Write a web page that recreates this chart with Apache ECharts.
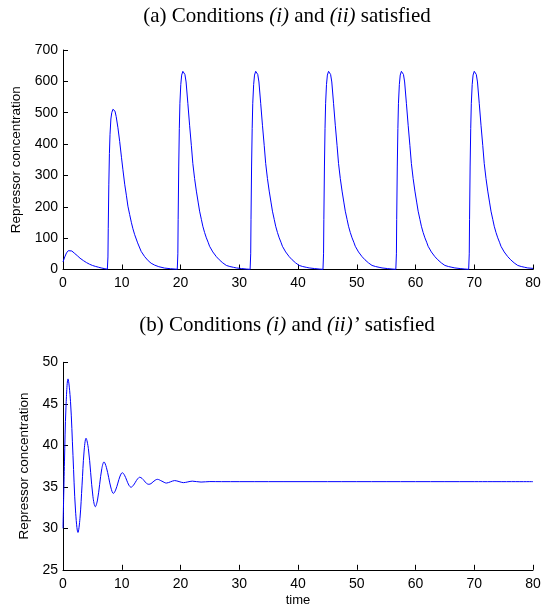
<!DOCTYPE html>
<html>
<head>
<meta charset="utf-8">
<script src="https://cdn.jsdelivr.net/npm/echarts@6/dist/echarts.min.js"></script>
<style>
html,body{margin:0;padding:0;background:#fff;}
#chart{width:557px;height:610px;}
</style>
</head>
<body>
<div id="chart"></div>
<script>
// ---- Data ----
var titleA = '(a) Conditions {it|(i)} and {it|(ii)} satisfied';
var titleB = '(b) Conditions {it|(i)} and {it|(ii)’} satisfied';
var yName = 'Repressor concentration';
var xName = 'time';
var xTicks = [0, 10, 20, 30, 40, 50, 60, 70, 80];
var yTicksA = [0, 100, 200, 300, 400, 500, 600, 700];
var yTicksB = [25, 30, 35, 40, 45, 50];

// (a) time and repressor concentration
var timeA = [
  0, 0.3, 0.6, 0.9, 1.15, 1.5, 2.0, 2.5, 2.9, 3.5, 4.0, 4.5, 5.0, 5.5, 6.0, 6.5, 7.0, 7.55,
  7.65, 7.7, 7.8, 7.9, 8.0, 8.15, 8.3, 8.5, 8.65, 8.85, 9.05, 9.35, 9.65, 9.95, 10.2, 10.5, 10.8, 11.05, 11.35, 11.65, 11.9, 12.2, 12.7, 13.3, 13.9, 14.5, 15.0, 15.6, 16.3, 17.3, 18.3, 19.45,
  19.55, 19.6, 19.7, 19.8, 19.9, 20.05, 20.2, 20.4, 20.55, 20.75, 20.95, 21.25, 21.55, 21.85, 22.1, 22.4, 22.7, 23.0, 23.25, 23.55, 23.8, 24.1, 24.4, 24.7, 24.95, 25.5, 26.1, 26.6, 27.2, 27.8, 28.4, 29.0, 29.5, 30.4, 31.2, 31.85,
  31.95, 32.0, 32.1, 32.2, 32.3, 32.45, 32.6, 32.8, 32.95, 33.15, 33.35, 33.65, 33.95, 34.25, 34.5, 34.8, 35.1, 35.4, 35.65, 35.95, 36.2, 36.5, 36.8, 37.1, 37.35, 37.9, 38.5, 39.0, 39.6, 40.2, 40.8, 41.4, 41.9, 42.8, 43.6, 44.25,
  44.35, 44.4, 44.5, 44.6, 44.7, 44.85, 45.0, 45.2, 45.35, 45.55, 45.75, 46.05, 46.35, 46.65, 46.9, 47.2, 47.5, 47.8, 48.05, 48.35, 48.6, 48.9, 49.2, 49.5, 49.75, 50.3, 50.9, 51.4, 52.0, 52.6, 53.2, 53.8, 54.3, 55.2, 56.0, 56.65,
  56.75, 56.8, 56.9, 57.0, 57.1, 57.25, 57.4, 57.6, 57.75, 57.95, 58.15, 58.45, 58.75, 59.05, 59.3, 59.6, 59.9, 60.2, 60.45, 60.75, 61.0, 61.3, 61.6, 61.9, 62.15, 62.7, 63.3, 63.8, 64.4, 65.0, 65.6, 66.2, 66.7, 67.6, 68.4, 69.05,
  69.15, 69.2, 69.3, 69.4, 69.5, 69.65, 69.8, 70.0, 70.15, 70.35, 70.55, 70.85, 71.15, 71.45, 71.7, 72.0, 72.3, 72.6, 72.85, 73.15, 73.4, 73.7, 74.0, 74.3, 74.55, 75.1, 75.7, 76.2, 76.8, 77.4, 78.0, 78.6, 79.1, 80.0
];
var repressorA = [
  24, 40, 53, 60, 62, 59, 51, 43, 36, 28, 22, 17, 13, 10, 7.5, 5, 3, 1,
  40, 130, 270, 370, 430, 480, 500, 511, 512, 505, 488, 452, 408, 358, 318, 272, 235, 202, 175, 149, 130, 111, 85, 58, 41, 28, 20, 14, 9, 4.5, 2.5, 0.8,
  50, 160, 330, 450, 530, 590, 620, 632, 633, 622, 598, 530, 460, 395, 338, 290, 250, 215, 186, 160, 138, 118, 101, 87, 74, 56, 41, 31, 21, 13, 9.5, 7, 5, 3, 1.5, 0.5,
  50, 160, 330, 450, 530, 590, 620, 632, 633, 622, 598, 530, 460, 395, 338, 290, 250, 215, 186, 160, 138, 118, 101, 87, 74, 56, 41, 31, 21, 13, 9.5, 7, 5, 3, 1.5, 0.5,
  50, 160, 330, 450, 530, 590, 620, 632, 633, 622, 598, 530, 460, 395, 338, 290, 250, 215, 186, 160, 138, 118, 101, 87, 74, 56, 41, 31, 21, 13, 9.5, 7, 5, 3, 1.5, 0.5,
  50, 160, 330, 450, 530, 590, 620, 632, 633, 622, 598, 530, 460, 395, 338, 290, 250, 215, 186, 160, 138, 118, 101, 87, 74, 56, 41, 31, 21, 13, 9.5, 7, 5, 3, 1.5, 0.5,
  50, 160, 330, 450, 530, 590, 620, 632, 633, 622, 598, 530, 460, 395, 338, 290, 250, 215, 186, 160, 138, 118, 101, 87, 74, 56, 41, 31, 21, 13, 9.5, 7, 5, 3.5
];

// (b) time and repressor concentration
var timeB = [
  0, 0.25, 0.5, 0.85, 1.275, 1.7, 2.125, 2.55, 2.89, 3.24, 3.58, 3.92, 4.32, 4.71, 5.1, 5.5,
  5.87, 6.24, 6.61, 6.98, 7.38, 7.78, 8.17, 8.57, 8.95, 9.34, 9.72, 10.1, 10.47, 10.84, 11.21, 11.58,
  11.95, 12.32, 12.69, 13.06, 13.44, 13.83, 14.21, 14.6, 14.97, 15.33, 15.7, 16.06, 16.83, 17.6, 18.3, 19.0,
  19.75, 20.5, 21.25, 22.0, 23.5, 25, 27, 30, 40, 50, 60, 70, 80
];
var repressorB = [
  30, 38, 44.5, 48, 45.3, 38.75, 32.2, 29.5, 31.2, 35.2, 39.2, 40.85, 39.6, 36.7, 33.8, 32.6,
  33.4, 35.3, 37.2, 38.0, 37.35, 36.1, 34.85, 34.2, 34.6, 35.45, 36.3, 36.7, 36.4, 35.8, 35.2, 34.95,
  35.15, 35.55, 35.95, 36.15, 36.02, 35.72, 35.42, 35.3, 35.38, 35.6, 35.8, 35.9, 35.68, 35.45, 35.6, 35.75,
  35.63, 35.5, 35.59, 35.68, 35.57, 35.63, 35.62, 35.62, 35.62, 35.62, 35.62, 35.62, 35.62
];

// ---- Build series data ----
function zip(xs, ys) { var out = []; for (var i = 0; i < xs.length; i++) out.push([xs[i], ys[i]]); return out; }
var dataA = zip(timeA, repressorA);
var dataB = zip(timeB, repressorB);

var FONT_SANS = '"Liberation Sans", Arial, Helvetica, sans-serif';
var FONT_SERIF = '"Liberation Serif", "Times New Roman", serif';

function xAxisCfg(gridIndex, withName) {
  return {
    type: 'value', gridIndex: gridIndex,
    min: xTicks[0], max: xTicks[xTicks.length - 1], interval: xTicks[1] - xTicks[0],
    name: withName ? xName : '', nameLocation: 'middle', nameGap: 24,
    nameTextStyle: { fontFamily: FONT_SANS, fontSize: 13, color: '#000' },
    axisLine: { show: true, onZero: false, lineStyle: { color: '#000', width: 1 } },
    axisTick: { show: true, inside: true, length: 5, lineStyle: { color: '#000', width: 1 } },
    axisLabel: { fontFamily: FONT_SANS, fontSize: 14, color: '#000', margin: 7 },
    splitLine: { show: false }
  };
}
function yAxisCfg(gridIndex, ticks, gap) {
  return {
    type: 'value', gridIndex: gridIndex,
    min: ticks[0], max: ticks[ticks.length - 1], interval: ticks[1] - ticks[0],
    name: yName, nameLocation: 'middle', nameRotate: 90, nameGap: gap,
    nameTextStyle: { fontFamily: FONT_SANS, fontSize: 13.5, color: '#000' },
    axisLine: { show: true, onZero: false, lineStyle: { color: '#000', width: 1 } },
    axisTick: { show: true, inside: true, length: 5, lineStyle: { color: '#000', width: 1 } },
    axisLabel: { fontFamily: FONT_SANS, fontSize: 14, color: '#000', margin: 5 },
    splitLine: { show: false }
  };
}

var richIt = { it: { fontFamily: FONT_SERIF, fontSize: 21, fontStyle: 'italic', fill: '#000' } };

var chart = echarts.init(document.getElementById('chart'), null, { renderer: 'canvas' });
chart.setOption({
  animation: false,
  backgroundColor: '#fff',
  graphic: [
    { type: 'text', x: 287, y: 16,
      style: { text: titleA, font: '21px ' + FONT_SERIF, fill: '#000', align: 'center', verticalAlign: 'middle', rich: richIt } },
    { type: 'text', x: 287, y: 325,
      style: { text: titleB, font: '21px ' + FONT_SERIF, fill: '#000', align: 'center', verticalAlign: 'middle', rich: richIt } }
  ],
  grid: [
    { left: 63, right: 24, top: 50, height: 219.5 },
    { left: 63, right: 24, top: 362.3, height: 207.5 }
  ],
  xAxis: [xAxisCfg(0, false), xAxisCfg(1, true)],
  yAxis: [yAxisCfg(0, yTicksA, 37), yAxisCfg(1, yTicksB, 28)],
  series: [
    { type: 'line', xAxisIndex: 0, yAxisIndex: 0, data: dataA, showSymbol: false, smooth: false,
      lineStyle: { color: '#0000ff', width: 1 }, itemStyle: { color: '#0000ff' } },
    { type: 'line', xAxisIndex: 1, yAxisIndex: 1, data: dataB, showSymbol: false, smooth: 0.35,
      lineStyle: { color: '#0000ff', width: 1 }, itemStyle: { color: '#0000ff' } }
  ]
});
</script>
</body>
</html>
